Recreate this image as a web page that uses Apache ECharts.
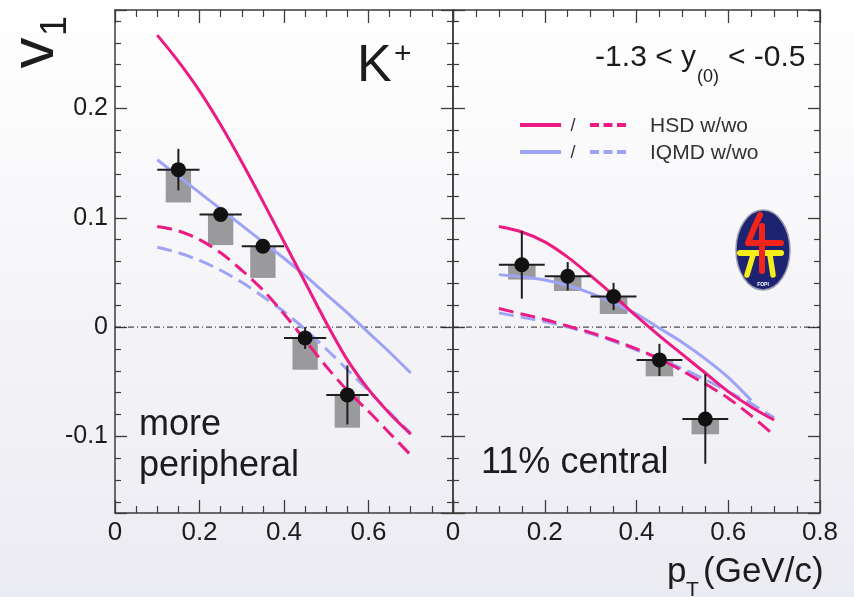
<!DOCTYPE html>
<html>
<head>
<meta charset="utf-8">
<script src="https://cdn.jsdelivr.net/npm/echarts@6/dist/echarts.min.js"></script>
<style>
  html, body { margin: 0; padding: 0; }
  #chart { width: 854px; height: 597px; }
</style>
</head>
<body>
<div id="chart"></div>
<script>
// K+ directed flow v1 vs transverse momentum, two centrality classes

// measured points (shared pT bin centres)
const ptX = [0.15, 0.25, 0.35, 0.45, 0.55];
const ptXErr = 0.05;          // half bin width
const sysHalfWidth = 0.03;    // half width of systematic boxes

// more peripheral
const perV1     = [0.144, 0.103, 0.074, -0.010, -0.062];
const perStat   = [0.019, 0.004, 0.004, 0.010, 0.027];
const perSysLow = [0.114, 0.075, 0.045, -0.039, -0.092];

// 11% central
const cenV1     = [0.057, 0.0465, 0.028, -0.030, -0.084];
const cenStat   = [0.031, 0.013, 0.0125, 0.0147, 0.041];
const cenSysLow = [0.0435, 0.033, 0.012, -0.045, -0.098];

// model curves, sampled in pT
const curveX = [0.1, 0.15, 0.2, 0.25, 0.3, 0.35, 0.4, 0.45, 0.5, 0.55, 0.6, 0.65, 0.7];
const hsdWithPer  = [0.267, 0.243, 0.216, 0.185, 0.151, 0.115, 0.078, 0.041, 0.004, -0.030, -0.057, -0.079, -0.098];
const iqmdWithPer = [0.153, 0.138, 0.123, 0.108, 0.093, 0.078, 0.063, 0.047, 0.030, 0.013, -0.005, -0.023, -0.042];
const hsdWoPer    = [0.092, 0.088, 0.080, 0.068, 0.052, 0.034, 0.012, -0.012, -0.036, -0.058, -0.077, -0.097, -0.117];
const iqmdWoPer   = [0.073, 0.068, 0.061, 0.052, 0.041, 0.028, 0.014, -0.002, -0.020, -0.039, -0.058, -0.078, -0.097];

const hsdWithCen  = [0.092, 0.087, 0.078, 0.064, 0.047, 0.029, 0.010, -0.008, -0.025, -0.042, -0.059, -0.073, -0.085];
const iqmdWithCen = [0.048, 0.046, 0.043, 0.038, 0.031, 0.022, 0.012, -0.001, -0.014, -0.029, -0.046, -0.067, null];
const hsdWoCen    = [0.017, 0.012, 0.007, 0.001, -0.005, -0.012, -0.020, -0.029, -0.040, -0.052, -0.065, -0.081, -0.099];
const iqmdWoCen   = [0.013, 0.009, 0.005, 0.000, -0.006, -0.013, -0.021, -0.029, -0.038, -0.048, -0.059, -0.070, -0.083];

// axis ranges
const xRange = [0, 0.8];
const yRange = [-0.17, 0.29];
const zeroLine = [[0, 0], [0.8, 0]];

const FONT = "'Liberation Sans', Arial, Helvetica, sans-serif";
const PINK = '#ec1a83';
const BLUE = '#9ea3f6';
const FRAME = '#3c3c3c';
const TEXT = '#1c1c1c';

const pairs = (xs, ys) => xs.map((x, i) => [x, ys[i]]).filter(p => p[1] !== null);
const points = (v, s, lo) => ptX.map((x, i) => [x, v[i], s[i], lo[i]]);

const chart = echarts.init(document.getElementById('chart'), null, { renderer: 'canvas' });

function xAxisDef(gridIndex, position, showLabels, hideMax) {
  return {
    type: 'value', gridIndex, position, min: xRange[0], max: xRange[1], interval: 0.2,
    axisLine: { show: true, onZero: false, lineStyle: { color: FRAME, width: 1.5 } },
    axisTick: { show: true, inside: true, length: 13, lineStyle: { color: FRAME, width: 1.3 } },
    minorTick: { show: true, splitNumber: 4, length: 7, lineStyle: { color: FRAME, width: 1.2 } },
    splitLine: { show: false },
    axisLabel: {
      show: showLabels, margin: 7, fontSize: 26, color: TEXT, fontFamily: FONT,
      showMaxLabel: !hideMax, showMinLabel: true
    }
  };
}
function yAxisDef(gridIndex, position, showLabels) {
  return {
    type: 'value', gridIndex, position, min: yRange[0], max: yRange[1], splitNumber: 5,
    axisLine: { show: true, onZero: false, lineStyle: { color: FRAME, width: 1.5 } },
    axisTick: { show: true, inside: true, length: 12, lineStyle: { color: FRAME, width: 1.3 } },
    minorTick: { show: true, splitNumber: 5, length: 6, lineStyle: { color: FRAME, width: 1.2 } },
    splitLine: { show: false },
    axisLabel: {
      show: showLabels, margin: 7, fontSize: 25, color: TEXT, fontFamily: FONT,
      showMinLabel: false, showMaxLabel: false
    }
  };
}

function boxRender(params, api) {
  const x = api.value(0), y = api.value(1), lo = api.value(3);
  const a = api.coord([x - sysHalfWidth, y]);
  const b = api.coord([x + sysHalfWidth, lo]);
  return {
    type: 'rect',
    shape: { x: a[0], y: a[1], width: b[0] - a[0], height: b[1] - a[1] },
    style: { fill: '#9a9a9c' }
  };
}
function errRender(params, api) {
  const x = api.value(0), y = api.value(1), e = api.value(2);
  const top = api.coord([x, y + e]);
  const bot = api.coord([x, y - e]);
  const l = api.coord([x - ptXErr, y]);
  const r = api.coord([x + ptXErr, y]);
  const st = { stroke: '#1e1e1e', lineWidth: 2 };
  return {
    type: 'group',
    children: [
      { type: 'line', shape: { x1: top[0], y1: top[1], x2: bot[0], y2: bot[1] }, style: st },
      { type: 'line', shape: { x1: l[0], y1: l[1], x2: r[0], y2: r[1] }, style: st }
    ]
  };
}

function panelSeries(xi, yi, v, s, lo, hsdW, iqmdW, hsdWo, iqmdWo) {
  const line = (data, color, dashed) => ({
    type: 'line', xAxisIndex: xi, yAxisIndex: yi, data, smooth: 0.3,
    symbol: 'none', z: 3, silent: true,
    lineStyle: { color, width: 3, type: dashed ? [15, 7] : 'solid' }
  });
  return [
    { type: 'line', xAxisIndex: xi, yAxisIndex: yi, data: zeroLine, symbol: 'none', z: 1,
      lineStyle: { color: '#222', width: 1, type: [6, 3, 1, 3] }, silent: true },
    { type: 'custom', xAxisIndex: xi, yAxisIndex: yi, data: points(v, s, lo), renderItem: boxRender, z: 2 },
    line(pairs(curveX, iqmdWo), BLUE, true),
    line(pairs(curveX, hsdWo), PINK, true),
    line(pairs(curveX, iqmdW), BLUE, false),
    line(pairs(curveX, hsdW), PINK, false),
    { type: 'custom', xAxisIndex: xi, yAxisIndex: yi, data: points(v, s, lo), renderItem: errRender, z: 5 },
    { type: 'scatter', xAxisIndex: xi, yAxisIndex: yi, data: pairs(ptX, v), symbol: 'circle',
      symbolSize: 15, itemStyle: { color: '#111111', opacity: 1 }, z: 6 }
  ];
}

const txt = (text, x, y, size, align, extra, color) => Object.assign({
  type: 'text', x, y, z: 20,
  style: { text, font: `${size}px ${FONT}`, fill: color || TEXT, textAlign: align || 'left', textVerticalAlign: 'middle' }
}, extra || {});

const option = {
  animation: false,
  backgroundColor: {
    type: 'linear', x: 0, y: 0, x2: 0, y2: 1,
    colorStops: [{ offset: 0, color: '#ffffff' }, { offset: 1, color: '#ebebf2' }]
  },
  grid: [
    { left: 115, top: 10, width: 338, height: 503 },
    { left: 453, top: 10, width: 367, height: 503 }
  ],
  xAxis: [
    xAxisDef(0, 'bottom', true, true),
    xAxisDef(0, 'top', false, true),
    xAxisDef(1, 'bottom', true, false),
    xAxisDef(1, 'top', false, false)
  ],
  yAxis: [
    yAxisDef(0, 'left', true),
    yAxisDef(0, 'right', false),
    yAxisDef(1, 'left', false),
    yAxisDef(1, 'right', false)
  ],
  series: [
    ...panelSeries(0, 0, perV1, perStat, perSysLow, hsdWithPer, iqmdWithPer, hsdWoPer, iqmdWoPer),
    ...panelSeries(2, 2, cenV1, cenStat, cenSysLow, hsdWithCen, iqmdWithCen, hsdWoCen, iqmdWoCen)
  ],
  graphic: [
    // y-axis title v_1 (rotated)
    txt('v', 36, 53, 62, 'center', { rotation: Math.PI / 2 }),
    txt('1', 56, 26, 36, 'center', { rotation: Math.PI / 2 }),
    // x-axis title p_T (GeV/c)
    txt('p', 667, 572, 35, 'left'),
    txt('T', 686, 590, 21, 'left'),
    txt('(GeV/c)', 703, 572, 35, 'left'),
    // particle label
    txt('K', 357, 67, 52, 'left'),
    txt('+', 394, 55, 30, 'left'),
    // rapidity window
    txt('-1.3 < y', 696, 58, 30, 'right'),
    txt('(0)', 697, 77, 18, 'left'),
    txt('< -0.5', 728, 58, 30, 'left'),
    // centrality labels
    txt('more', 139, 425, 36, 'left'),
    txt('peripheral', 139, 466, 36, 'left'),
    txt('11% central', 481, 463, 36, 'left'),
    // legend
    { type: 'line', z: 20, shape: { x1: 520, y1: 125, x2: 561, y2: 125 }, style: { stroke: PINK, lineWidth: 4 } },
    { type: 'line', z: 20, shape: { x1: 590, y1: 125, x2: 626, y2: 125 }, style: { stroke: PINK, lineWidth: 4, lineDash: [9, 4.5] } },
    { type: 'line', z: 20, shape: { x1: 520, y1: 152, x2: 561, y2: 152 }, style: { stroke: BLUE, lineWidth: 4 } },
    { type: 'line', z: 20, shape: { x1: 590, y1: 152, x2: 626, y2: 152 }, style: { stroke: BLUE, lineWidth: 4, lineDash: [9, 4.5] } },
    txt('/', 573, 126, 18, 'center', null, '#333'),
    txt('/', 573, 153, 18, 'center', null, '#333'),
    txt('HSD w/wo', 650, 126, 21, 'left', null, '#333'),
    txt('IQMD w/wo', 650, 153, 21, 'left', null, '#333'),
    // FOPI logo
    { type: 'ellipse', z: 20, shape: { cx: 763, cy: 250, rx: 27, ry: 40 }, style: { fill: '#1d2271', stroke: '#9a9ab0', lineWidth: 1.5 } },
    { type: 'polyline', z: 21, shape: { points: [[740, 253], [781, 253]] }, style: { stroke: '#f4ee1c', lineWidth: 6, lineCap: 'round' } },
    { type: 'polyline', z: 21, shape: { points: [[753, 255], [747, 275]] }, style: { stroke: '#f4ee1c', lineWidth: 5.5, lineCap: 'round' } },
    { type: 'polyline', z: 21, shape: { points: [[770, 255], [773, 275]] }, style: { stroke: '#f4ee1c', lineWidth: 5.5, lineCap: 'round' } },
    { type: 'polyline', z: 22, shape: { points: [[760, 215], [754, 228], [748, 243], [781, 243]] }, style: { stroke: '#f2251c', lineWidth: 6, lineCap: 'round', lineJoin: 'round', fill: null } },
    { type: 'polyline', z: 22, shape: { points: [[762, 226], [762, 271]] }, style: { stroke: '#f2251c', lineWidth: 6, lineCap: 'round' } },
    { type: 'text', z: 22, x: 763, y: 285, style: { text: 'FOPI', font: `bold 5px ${FONT}`, fill: '#ffffff', textAlign: 'center', textVerticalAlign: 'middle' } }
  ]
};

chart.setOption(option);
</script>
</body>
</html>
